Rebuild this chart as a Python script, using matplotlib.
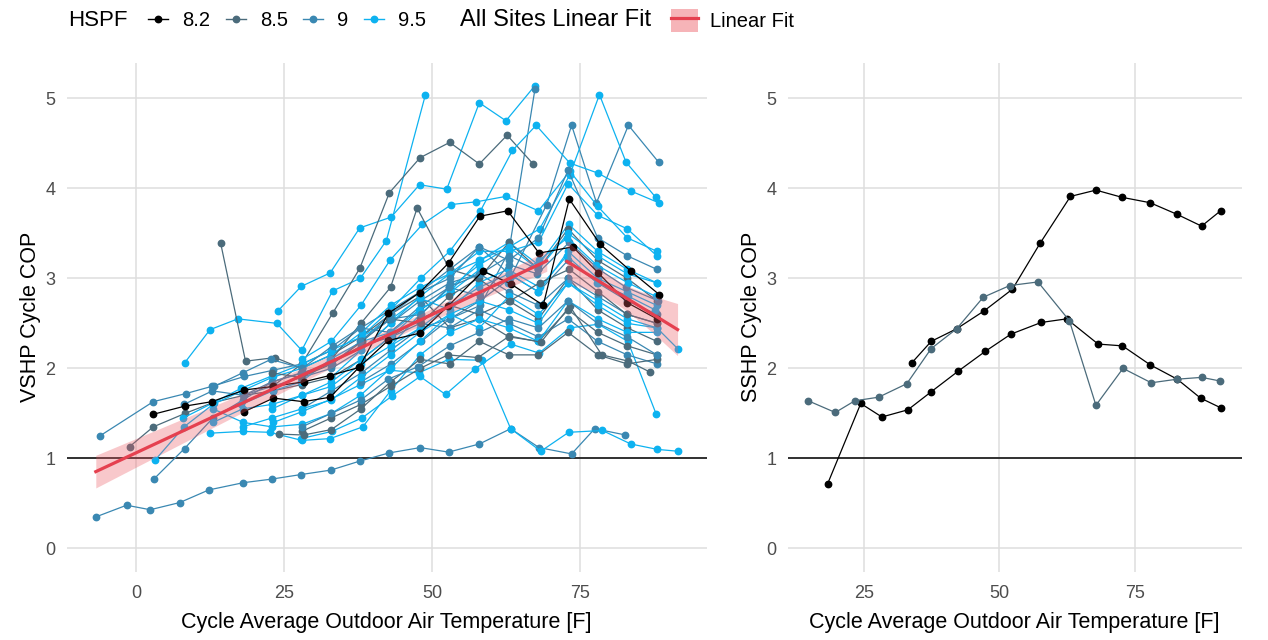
import numpy as np
import matplotlib.pyplot as plt
from matplotlib.lines import Line2D
from matplotlib.patches import Patch

plt.rcParams['font.family'] = ['Liberation Sans', 'DejaVu Sans']

hspf_levels = ['8.2', '8.5', '9', '9.5']
hspf_colors = {'8.2': '#000000', '8.5': '#4b6b7b', '9': '#3a88b2', '9.5': '#0db2f0'}
fit_color = '#e5404f'
band_color = '#ec5a63'

# variable speed heat pumps: one entry per site
vshp_hspf = ['9', '9.5', '9.5', '9.5', '9.5', '9', '8.5', '9', '9.5', '9.5',
             '8.5', '9', '8.5', '9', '9.5', '9.5', '8.5', '9.5', '9.5', '8.5',
             '9', '9.5', '9.5', '9.5', '9.5', '9', '8.5', '9', '9.5', '9',
             '9.5', '8.5', '9', '8.2', '8.2']
vshp_temp = [
    [-6.8, -1.6, 2.4, 7.4, 12.3, 18.1, 22.9, 27.8, 32.9, 37.8, 42.7, 48.0, 52.8, 58.0, 63.3, 68.1, 73.6, 77.5, 82.7],
    [23.2, 28.1, 33.0, 37.9, 42.8, 47.8, 52.8, 58.4, 63.3, 68.4, 73.1, 78.8, 83.6, 88.1, 91.5],
    [27.9, 33.1, 38.2, 43.2, 48.0, 52.3, 57.2, 63.3, 68.1, 73.3, 78.1, 83.1, 87.9],
    [8.2, 12.5, 17.2, 23.8, 28.0, 33.2, 37.9, 42.3, 48.9],
    [24.0, 27.9, 32.8, 37.8, 43.1, 47.9, 52.5, 58.0, 62.5, 67.4],
    [28.0, 33.0, 38.1, 43.0, 48.1, 53.0, 58.2, 63.0, 67.4],
    [23.1, 28.0, 33.2, 37.8, 42.8, 48.0, 53.0, 58.0, 62.7, 67.1],
    [38.0, 43.1, 48.2, 53.0, 58.1, 63.2, 69.4, 73.6, 77.8, 83.2, 88.3],
    [43.0, 48.0, 53.1, 58.0, 63.1, 68.2, 73.3, 78.3, 82.8, 87.8],
    [38.0, 43.0, 48.1, 53.0, 58.2, 63.6, 67.6, 73.3, 78.0, 83.6, 88.3],
    [14.3, 18.5, 23.5, 28.0, 33.0, 38.0, 43.0, 48.0, 53.0, 58.0, 63.0, 68.0, 73.0, 78.0, 83.0, 88.0],
    [-6.1, 2.9, 8.4, 12.8, 18.3, 23.2, 28.0, 33.1, 38.0, 43.0, 48.0, 53.0, 58.0, 63.0, 68.0, 73.0, 78.0, 83.0, 88.0],
    [-1.1, 2.9, 8.3, 13.0, 18.2, 23.1, 28.0, 33.0, 38.1, 43.0, 48.0, 53.0, 58.0, 63.0, 68.0, 73.0, 78.0, 83.0, 88.0],
    [3.0, 8.2, 13.0, 18.1, 23.0, 28.2, 33.0, 38.0, 43.2, 48.0, 53.0, 58.0, 63.0, 68.0, 73.0, 78.0, 83.0, 88.0],
    [3.2, 8.1, 13.0, 17.9, 23.0, 28.0, 33.0, 38.1, 43.0, 48.0, 53.0, 58.1, 63.0, 68.0, 73.1, 78.0, 83.0, 88.0],
    [12.5, 18.0, 22.6, 28.0, 32.8, 38.3, 43.0, 48.0, 53.0, 58.0, 63.0, 68.0, 73.0, 78.0, 83.0, 88.0],
    [24.2, 28.3, 33.0, 38.0, 43.0, 48.0, 53.0, 58.0, 63.0, 68.0, 73.0, 78.0, 83.0, 88.0],
    [13.0, 18.1, 23.0, 28.1, 33.0, 37.9, 43.0, 48.0, 53.0, 58.0, 63.0, 68.0, 73.0, 78.0, 83.0, 88.0],
    [28.0, 33.0, 38.0, 42.9, 48.4, 53.3, 57.5, 62.5, 68.0, 73.3, 78.0, 83.0, 88.0],
    [33.0, 38.0, 43.0, 47.5, 53.0, 58.0, 63.0, 68.0, 73.0, 78.0, 83.0, 88.0],
    [18.0, 23.0, 28.0, 33.0, 38.0, 43.0, 48.0, 53.0, 58.0, 63.0, 68.0, 73.0, 78.0, 83.0, 88.0],
    [13.0, 18.0, 23.0, 28.0, 33.0, 38.0, 43.0, 48.0, 53.0, 58.0, 63.0, 68.0, 73.0, 78.0, 83.0, 88.0],
    [18.0, 23.0, 28.0, 33.0, 38.0, 43.0, 48.0, 53.0, 58.0, 63.0, 68.0, 73.0, 78.0, 83.0, 88.0, 91.5],
    [23.0, 28.0, 33.0, 38.0, 43.0, 48.0, 53.0, 58.0, 63.0, 68.0, 73.0, 78.0, 83.0, 88.0],
    [33.0, 38.0, 43.0, 48.0, 53.0, 58.0, 63.0, 68.0, 73.0, 78.0, 83.0, 88.0],
    [38.0, 43.0, 48.0, 53.0, 58.0, 63.0, 68.0, 73.0, 78.0, 83.0, 88.0],
    [28.0, 33.0, 38.0, 43.0, 48.0, 52.7, 57.8, 63.1, 68.4, 73.3, 78.7, 83.2, 86.8],
    [28.0, 33.0, 38.0, 42.6, 47.7, 53.0, 58.0, 63.0, 68.0, 73.0, 78.0, 83.0, 88.0],
    [8.0, 13.1, 17.8, 23.1, 28.2, 32.9, 38.1, 43.2, 47.9, 53.1, 57.9, 62.8, 68.2, 72.8, 77.9, 83.2, 87.7],
    [13.2, 18.0, 22.8, 28.1, 33.2, 37.8, 42.9, 48.2, 52.9, 58.2, 63.1, 67.8, 73.2, 78.2, 82.8, 88.2],
    [17.8, 23.1, 27.9, 32.8, 38.2, 43.1, 47.8, 53.2, 58.1, 62.9, 68.1, 72.9, 77.8, 83.1, 87.8],
    [22.9, 27.8, 33.1, 38.2, 42.8, 48.1, 52.9, 57.8, 63.2, 68.2, 73.2, 78.1, 82.9, 88.1],
    [8.1, 12.9, 18.2, 22.9, 27.9, 33.1, 37.9, 43.1, 48.2, 52.8, 58.2, 63.1, 67.9],
    [2.9, 8.2, 12.8, 18.3, 23.2, 28.3, 32.7, 37.7, 42.6, 47.9, 52.8, 58.1, 62.8, 68.1, 73.8, 78.1, 83.0, 88.0],
    [18.3, 23.2, 28.3, 32.8, 37.8, 42.6, 47.9, 52.7, 58.6, 63.3, 68.8, 73.2, 78.4, 83.6, 88.4],
]
vshp_cop = [
    [0.35, 0.48, 0.43, 0.51, 0.65, 0.73, 0.77, 0.82, 0.87, 0.97, 1.06, 1.12, 1.07, 1.16, 1.33, 1.12, 1.05, 1.33, 1.26],
    [1.40, 1.52, 1.66, 1.82, 1.98, 1.95, 2.10, 2.09, 1.33, 1.08, 1.29, 1.31, 1.16, 1.10, 1.08],
    [1.22, 1.30, 1.45, 1.69, 1.91, 1.71, 1.99, 2.27, 2.17, 2.45, 2.49, 2.30, 1.49],
    [2.06, 2.43, 2.55, 2.50, 2.20, 2.86, 3.00, 3.42, 5.04],
    [2.64, 2.91, 3.06, 3.56, 3.68, 4.04, 3.99, 4.95, 4.75, 5.14],
    [1.55, 1.75, 1.95, 2.20, 2.45, 2.55, 2.70, 3.30, 5.10],
    [1.80, 2.05, 2.61, 3.11, 3.95, 4.34, 4.51, 4.27, 4.59, 4.27],
    [1.85, 2.05, 2.30, 2.55, 2.75, 3.00, 3.82, 4.70, 3.84, 4.70, 4.29],
    [2.25, 2.60, 2.90, 3.15, 3.35, 3.55, 4.15, 5.04, 4.29, 3.90],
    [2.35, 2.65, 3.00, 3.30, 3.75, 4.42, 4.70, 4.28, 4.17, 3.97, 3.84],
    [3.39, 2.08, 2.12, 2.00, 2.15, 2.35, 2.60, 2.80, 2.45, 2.55, 2.35, 2.30, 2.65, 2.40, 2.25, 2.15],
    [1.25, 1.63, 1.72, 1.80, 1.91, 1.98, 2.05, 2.20, 2.45, 2.65, 2.85, 3.10, 3.35, 3.05, 2.85, 3.20, 2.95, 2.75, 2.60],
    [1.13, 1.35, 1.50, 1.62, 1.70, 1.75, 1.82, 1.90, 2.10, 2.35, 2.55, 2.70, 2.60, 2.75, 2.55, 3.00, 2.65, 2.45, 2.30],
    [0.77, 1.11, 1.45, 1.65, 1.85, 1.95, 2.05, 2.25, 2.35, 2.50, 2.45, 2.65, 2.50, 2.35, 2.55, 2.30, 2.15, 2.05],
    [0.98, 1.35, 1.60, 1.75, 1.90, 2.00, 2.15, 2.40, 2.70, 2.90, 3.05, 3.20, 3.40, 3.15, 3.60, 3.30, 3.10, 2.95],
    [1.28, 1.30, 1.29, 1.20, 1.22, 1.35, 1.75, 2.15, 2.40, 2.55, 2.45, 2.30, 2.75, 2.55, 2.40, 2.40],
    [1.27, 1.26, 1.32, 1.55, 1.85, 2.10, 2.05, 2.30, 2.15, 2.15, 2.40, 2.15, 2.05, 2.10],
    [1.55, 1.40, 1.35, 1.38, 1.50, 1.70, 2.00, 2.30, 2.60, 2.75, 2.65, 2.50, 2.95, 2.70, 2.50, 2.45],
    [2.10, 2.30, 2.70, 3.20, 3.60, 3.82, 3.85, 3.91, 3.75, 4.19, 3.80, 3.45, 3.30],
    [2.10, 2.50, 2.90, 3.78, 3.10, 3.00, 3.40, 3.10, 3.55, 3.20, 3.00, 2.75],
    [1.70, 1.80, 1.90, 2.00, 2.20, 2.50, 2.75, 2.95, 3.05, 2.85, 2.70, 3.00, 2.80, 2.60, 2.50],
    [1.40, 1.55, 1.60, 1.70, 1.80, 2.05, 2.25, 2.45, 2.70, 2.90, 3.05, 2.85, 3.30, 3.00, 2.85, 2.70],
    [1.35, 1.45, 1.55, 1.65, 1.90, 2.15, 2.40, 2.60, 2.45, 2.80, 2.60, 2.95, 2.75, 2.55, 2.45, 2.22],
    [1.55, 1.70, 1.85, 2.10, 2.35, 2.65, 2.85, 3.20, 3.35, 3.10, 3.50, 3.25, 3.05, 2.95],
    [1.90, 2.20, 2.50, 2.80, 3.05, 3.30, 3.30, 3.40, 4.05, 3.70, 3.55, 3.25],
    [2.30, 2.60, 2.85, 3.00, 3.35, 3.20, 3.45, 4.20, 3.45, 3.25, 3.10],
    [1.30, 1.45, 1.60, 1.80, 2.00, 2.15, 2.12, 2.36, 2.29, 2.69, 2.15, 2.08, 1.96],
    [1.35, 1.50, 1.65, 1.88, 2.02, 2.25, 2.40, 2.55, 2.45, 2.75, 2.50, 2.35, 2.15],
    [1.45, 1.62, 1.78, 1.92, 2.05, 2.20, 2.35, 2.55, 2.78, 2.65, 2.95, 3.10, 2.90, 3.25, 2.95, 2.80, 2.65],
    [1.80, 1.95, 2.10, 2.00, 2.25, 2.45, 2.40, 2.70, 2.90, 2.80, 3.15, 3.05, 3.40, 3.10, 2.90, 2.75],
    [1.60, 1.75, 1.85, 2.10, 2.30, 2.40, 2.65, 2.85, 3.10, 2.95, 3.20, 3.45, 3.15, 2.95, 2.80],
    [1.95, 1.90, 2.05, 2.30, 2.55, 2.50, 2.80, 3.00, 2.75, 2.95, 3.10, 2.85, 2.60, 2.50],
    [1.60, 1.75, 1.70, 1.85, 1.95, 2.05, 2.30, 2.55, 2.60, 2.90, 3.05, 3.25, 3.10],
    [1.49, 1.58, 1.63, 1.76, 1.80, 1.85, 1.92, 2.01, 2.61, 2.84, 3.17, 3.69, 3.75, 3.28, 3.35, 3.06, 2.73, 2.55],
    [1.52, 1.67, 1.63, 1.68, 2.02, 2.31, 2.39, 2.69, 3.08, 2.94, 2.70, 3.88, 3.38, 3.08, 2.82],
]

# single speed heat pumps
sshp_hspf = ['8.2', '8.2', '8.5']
sshp_temp = [
    [18.3, 24.4, 28.3, 33.1, 37.4, 42.4, 47.4, 52.1, 57.7, 62.4, 68.2, 72.7, 77.8, 82.8, 87.1, 90.9],
    [33.8, 37.4, 42.1, 47.2, 52.4, 57.5, 63.1, 67.8, 72.6, 77.8, 82.8, 87.3, 90.8],
    [14.7, 19.7, 23.3, 27.7, 32.9, 37.4, 42.1, 47.0, 51.9, 57.1, 62.9, 67.8, 72.8, 78.0, 82.8, 87.3, 90.7],
]
sshp_cop = [
    [0.72, 1.61, 1.46, 1.54, 1.74, 1.97, 2.19, 2.38, 2.51, 2.55, 2.27, 2.25, 2.04, 1.88, 1.67, 1.56],
    [2.06, 2.30, 2.44, 2.64, 2.88, 3.39, 3.91, 3.98, 3.90, 3.84, 3.71, 3.58, 3.75],
    [1.64, 1.51, 1.64, 1.68, 1.83, 2.22, 2.44, 2.79, 2.92, 2.96, 2.53, 1.59, 2.00, 1.84, 1.88, 1.90, 1.86],
]

fit_split = 70  # heating and cooling sides are fit separately


def lm_band(x, y):
    slope, icpt = np.polyfit(x, y, 1)
    n = len(x)
    resid = y - (icpt + slope * x)
    s = np.sqrt(np.sum(resid ** 2) / (n - 2))
    sxx = np.sum((x - x.mean()) ** 2)
    grid = np.linspace(x.min(), x.max(), 100)
    se = s * np.sqrt(1 / n + (grid - x.mean()) ** 2 / sxx)
    fit = icpt + slope * grid
    return grid, fit, fit - 1.96 * se, fit + 1.96 * se


fig = plt.figure(figsize=(12.68, 6.4), dpi=100)
ax1 = fig.add_axes([0.0526, 0.1069, 0.5047, 0.7954])
ax2 = fig.add_axes([0.6211, 0.1069, 0.3582, 0.7954])

for h, t, c in zip(vshp_hspf, vshp_temp, vshp_cop):
    ax1.plot(t, c, color=hspf_colors[h], lw=0.9, marker='o', ms=4.6, zorder=2)

for h, t, c in zip(sshp_hspf, sshp_temp, sshp_cop):
    ax2.plot(t, c, color=hspf_colors[h], lw=0.9, marker='o', ms=4.6, zorder=2)

all_t = np.concatenate([np.array(t) for t in vshp_temp])
all_c = np.concatenate([np.array(c) for c in vshp_cop])
for side in (all_t < fit_split, all_t >= fit_split):
    g, f, lo, hi = lm_band(all_t[side], all_c[side])
    ax1.fill_between(g, lo, hi, color=band_color, alpha=0.33, lw=0, zorder=3)
    ax1.plot(g, f, color=fit_color, lw=2.3, zorder=4)

ymax = max(max(c) for c in vshp_cop + sshp_cop)
ypad = 0.05 * ymax
for ax, ticks, ylab in ((ax1, [0, 25, 50, 75], 'VSHP Cycle COP'),
                        (ax2, [25, 50, 75], 'SSHP Cycle COP')):
    for s in ax.spines.values():
        s.set_visible(False)
    ax.grid(True, color='#dedede', lw=1.1)
    ax.set_axisbelow(True)
    ax.axhline(1, color='#000000', lw=1.1, zorder=1.5)
    ax.margins(x=0.05)
    ax.set_ylim(-ypad, ymax + ypad)
    ax.set_xticks(ticks)
    ax.set_yticks(range(6))
    ax.tick_params(length=0, labelsize=13, labelcolor='#4d4d4d')
    ax.tick_params(axis='x', pad=10)
    ax.tick_params(axis='y', pad=8)
    ax.set_xlabel('Cycle Average Outdoor Air Temperature [F]', fontsize=15.5, labelpad=7)
    ax.set_ylabel(ylab, fontsize=15.5, labelpad=3)

# legends along the top
hspf_handles = [Line2D([], [], color=hspf_colors[h], lw=1.0, marker='o', ms=4.6)
                for h in hspf_levels]
fig.text(0.0536, 0.968, 'HSPF', fontsize=16, va='center')
fig.legend(hspf_handles, hspf_levels, loc='center left', bbox_to_anchor=(0.117, 0.968),
           ncol=4, frameon=False, fontsize=14.5, handlelength=1.0, handletextpad=0.7,
           columnspacing=0.75, borderpad=0, borderaxespad=0)
fig.text(0.3628, 0.968, 'All Sites Linear Fit', fontsize=17, va='center')
fit_handle = (Patch(facecolor=band_color, alpha=0.45, lw=0), Line2D([], [], color=fit_color, lw=2.3))
fig.legend([fit_handle], ['Linear Fit'], loc='center left', bbox_to_anchor=(0.529, 0.968),
           frameon=False, fontsize=14.5, handlelength=1.35, handleheight=1.35,
           handletextpad=0.6, borderpad=0, borderaxespad=0)

fig.savefig('out.png', dpi=100)
